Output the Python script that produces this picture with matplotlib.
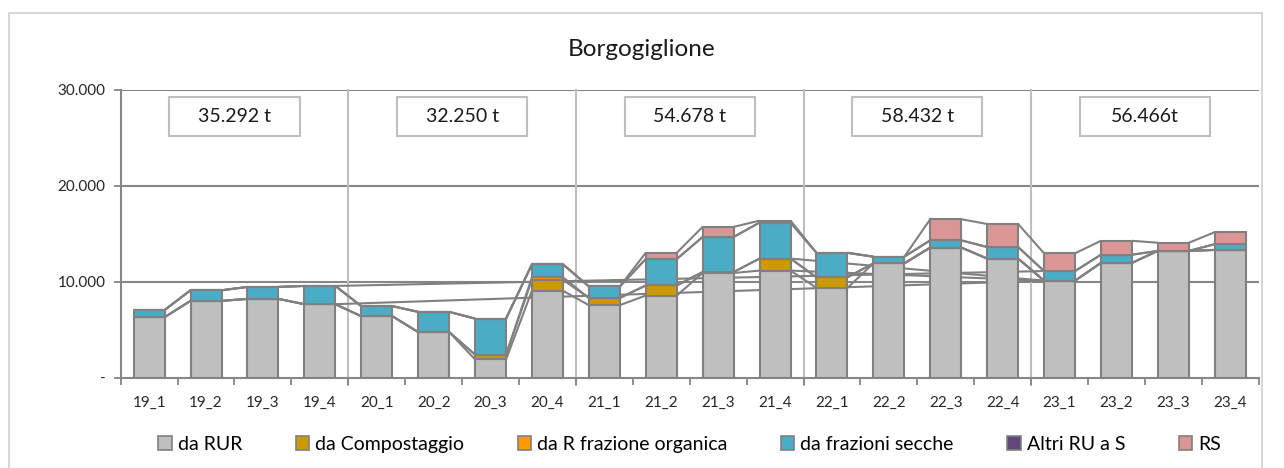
import matplotlib
matplotlib.use("Agg")
import matplotlib.pyplot as plt
from matplotlib.patches import Patch, Rectangle
import numpy as np

plt.rcParams['font.family'] = ['Lato', 'DejaVu Sans']

# ---------------- data ----------------
categories = ['19_1', '19_2', '19_3', '19_4', '20_1', '20_2', '20_3', '20_4',
              '21_1', '21_2', '21_3', '21_4', '22_1', '22_2', '22_3', '22_4',
              '23_1', '23_2', '23_3', '23_4']
series_names = ['da RUR', 'da Compostaggio', 'da R frazione organica',
                'da frazioni secche', 'Altri RU a S', 'RS']
da_rur = [6300, 8000, 8200, 7650, 6400, 4750, 1900, 9050, 7550, 8550,
          10900, 11150, 9350, 11900, 13550, 12400, 10100, 11950, 13200, 13300]
da_compostaggio = [0, 0, 0, 0, 0, 0, 500, 1150, 750, 1050,
                   100, 1250, 1100, 0, 0, 0, 0, 0, 0, 0]
da_r_organica = [0, 0, 0, 0, 0, 0, 0, 250, 0, 0,
                 0, 0, 0, 0, 0, 0, 0, 0, 0, 0]
da_secche = [750, 1100, 1250, 1900, 1050, 2100, 3750, 1350, 1200, 2750,
             3650, 3750, 2550, 700, 750, 1200, 1000, 850, 0, 600]
altri_ru = [0] * 20
rs = [0, 0, 0, 0, 0, 0, 0, 0, 0, 650,
      1050, 200, 0, 0, 2200, 2400, 1850, 1450, 850, 1250]
year_totals = ['35.292 t', '32.250 t', '54.678 t', '58.432 t', '56.466t']
ytick_values = [0, 10000, 20000, 30000]
ytick_labels = ['-', '10.000', '20.000', '30.000']
# extra long connector lines seen in the chart: (from bar, series level, to bar, series level)
long_links = [(3, 0, 16, 0), (3, 3, 16, 3), (11, 0, 16, 0), (11, 1, 16, 1)]

colors = ['#BFBFBF', '#CC9900', '#FF9900', '#4BACC6', '#604A7B', '#D99694']
edge = '#808080'

# ---------------- figure ----------------
fig = plt.figure(figsize=(12.84, 4.68), dpi=100)
ax = fig.add_axes([0.094, 0.193, 0.8863, 0.6157])

values = np.array([da_rur, da_compostaggio, da_r_organica, da_secche, altri_ru, rs], dtype=float)
cum = np.cumsum(values, axis=0)
x = np.arange(len(categories))
w = 0.545

bottom = np.zeros(len(categories))
for k in range(values.shape[0]):
    ax.bar(x, values[k], w, bottom=bottom, color=colors[k], edgecolor=edge,
           linewidth=1.5, zorder=3)
    bottom = bottom + values[k]

# series lines between adjacent bars
for k in range(values.shape[0]):
    for i in range(len(categories) - 1):
        ax.plot([x[i] + w / 2, x[i + 1] - w / 2], [cum[k, i], cum[k, i + 1]],
                color=edge, lw=1.5, zorder=2, solid_capstyle='butt')
for (a, ka, b, kb) in long_links:
    ax.plot([x[a] + w / 2, x[b] - w / 2], [cum[ka, a], cum[kb, b]],
            color=edge, lw=1.5, zorder=2)

ax.set_xlim(-0.5, len(categories) - 0.5)
ax.set_ylim(0, 30000)
ax.set_yticks(ytick_values)
ax.set_yticklabels(ytick_labels, fontsize=11, color='#262626')
ax.set_xticks(x)
ax.set_xticklabels(categories, fontsize=11, color='#262626')
ax.tick_params(axis='x', which='major', length=0, pad=13)
ax.set_xticks(np.arange(-0.5, len(categories)), minor=True)
ax.tick_params(axis='x', which='minor', length=5, color='#868686', width=1.3)
ax.tick_params(axis='y', length=5, color='#868686', width=1.3, pad=6)

for s in ['top', 'right']:
    ax.spines[s].set_visible(False)
for s in ['left', 'bottom']:
    ax.spines[s].set_color('#868686')
    ax.spines[s].set_linewidth(1.5)

for yv in ytick_values[1:]:
    ax.axhline(yv, color='#868686', lw=1.5, zorder=1)

# year separators
for b in range(4, len(categories), 4):
    ax.plot([b - 0.5, b - 0.5], [30000, -760], color='#BFBFBF', lw=1.5,
            zorder=1.5, clip_on=False)

# year total boxes
bw = 2.285
bh = 4100
for j, lab in enumerate(year_totals):
    cx = 4 * j + 1.5
    cy = 27200
    ax.add_patch(Rectangle((cx - bw / 2, cy - bh / 2), bw, bh, facecolor='white',
                           edgecolor='#BFBFBF', lw=1.5, zorder=4))
    ax.text(cx, cy, lab, ha='center', va='center', fontsize=14, color='#1a1a1a', zorder=5)

fig.text(0.5, 0.895, 'Borgogiglione', ha='center', va='center', fontsize=17.5, color='#1a1a1a')

handles = [Patch(facecolor=c, edgecolor=edge, lw=1.2) for c in colors]
fig.legend(handles, series_names, loc='center', bbox_to_anchor=(0.537, 0.051), ncol=6,
           frameon=False, fontsize=14, handlelength=0.7, handleheight=0.75,
           handletextpad=0.3, columnspacing=2.75)

# outer chart frame
fig.patches.append(Rectangle((8.5 / 1284, -0.05), (1261.5 - 8.5) / 1284, 1 - 12.5 / 468 + 0.05,
                             transform=fig.transFigure, fill=False, edgecolor='#D0D0D0',
                             lw=1.2))

fig.savefig('out.png', dpi=100)
